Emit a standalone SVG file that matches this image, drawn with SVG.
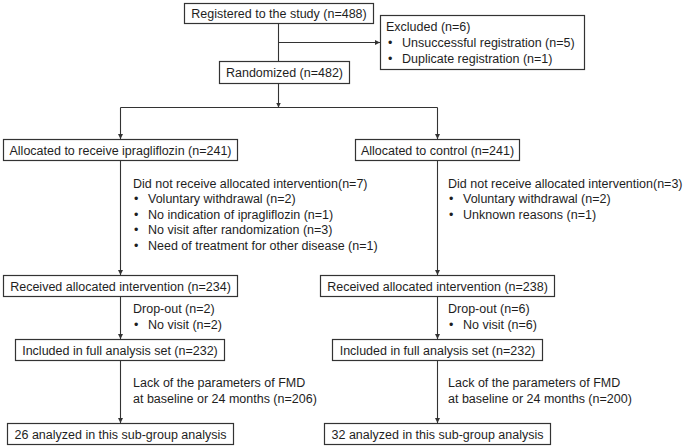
<svg xmlns="http://www.w3.org/2000/svg" width="685" height="446" viewBox="0 0 685 446">
<style>
.box{fill:#fff;stroke:#333;stroke-width:1.2}
.ln{fill:none;stroke:#333;stroke-width:1.1}
text{font-family:"Liberation Sans",Arial,sans-serif;font-size:12.5px;fill:#1e1e1e}
.c{text-anchor:middle}
</style>
<defs>
<marker id="ah" markerUnits="userSpaceOnUse" markerWidth="6" markerHeight="6" refX="5" refY="2.5" orient="auto">
<path d="M0,0 L5,2.5 L0,5 z" fill="#333"/>
</marker>
</defs>
<rect width="685" height="446" fill="#fff"/>
<g id="connectors">
<path class="ln" d="M278.5,23.5 V61.5"/>
<path class="ln" d="M278.5,42.5 H380" marker-end="url(#ah)"/>
<path class="ln" d="M278.5,83.5 V107.5" marker-end="url(#ah)"/>
<path class="ln" d="M120.5,107.5 H437.5"/>
<path class="ln" d="M120.5,107.5 V139" marker-end="url(#ah)"/>
<path class="ln" d="M437.5,107.5 V139" marker-end="url(#ah)"/>
<path class="ln" d="M120.5,160.5 V275" marker-end="url(#ah)"/>
<path class="ln" d="M437.5,160.5 V275" marker-end="url(#ah)"/>
<path class="ln" d="M120.5,296.5 V339" marker-end="url(#ah)"/>
<path class="ln" d="M437.5,296.5 V339" marker-end="url(#ah)"/>
<path class="ln" d="M120.5,360.5 V423" marker-end="url(#ah)"/>
<path class="ln" d="M437.5,360.5 V423" marker-end="url(#ah)"/>
</g>
<g id="registered">
<rect class="box" x="184.5" y="3.5" width="189" height="20"/>
<text class="c" x="279" y="18">Registered to the study (n=488)</text>
</g>
<g id="excluded">
<rect class="box" x="380.5" y="15.5" width="204" height="54"/>
<text x="386" y="30.5">Excluded (n=6)</text>
<text x="388" y="47">•</text><text x="402" y="47">Unsuccessful registration (n=5)</text>
<text x="388" y="62.5">•</text><text x="402" y="62.5">Duplicate registration (n=1)</text>
</g>
<g id="randomized">
<rect class="box" x="219.5" y="61.5" width="130" height="22"/>
<text class="c" x="284.5" y="77">Randomized (n=482)</text>
</g>
<g id="alloc-ipra">
<rect class="box" x="3.5" y="139.5" width="234" height="21"/>
<text class="c" x="120.5" y="154.5">Allocated to receive ipragliflozin (n=241)</text>
</g>
<g id="alloc-control">
<rect class="box" x="355.5" y="139.5" width="164" height="21"/>
<text class="c" x="437.5" y="154.5">Allocated to control (n=241)</text>
</g>
<g id="notrecv-ipra">
<text x="133" y="187.5">Did not receive allocated intervention(n=7)</text>
<text x="134" y="203">•</text><text x="148" y="203">Voluntary withdrawal (n=2)</text>
<text x="134" y="218.5">•</text><text x="148" y="218.5">No indication of ipragliflozin (n=1)</text>
<text x="134" y="234">•</text><text x="148" y="234">No visit after randomization (n=3)</text>
<text x="134" y="249.5">•</text><text x="148" y="249.5">Need of treatment for other disease (n=1)</text>
</g>
<g id="notrecv-control">
<text x="448" y="187.5">Did not receive allocated intervention(n=3)</text>
<text x="449" y="203">•</text><text x="463" y="203">Voluntary withdrawal (n=2)</text>
<text x="449" y="218.5">•</text><text x="463" y="218.5">Unknown reasons (n=1)</text>
</g>
<g id="recv-ipra">
<rect class="box" x="3.5" y="275.5" width="234" height="21"/>
<text class="c" x="120.5" y="290.5">Received allocated intervention (n=234)</text>
</g>
<g id="recv-control">
<rect class="box" x="320.5" y="275.5" width="234" height="21"/>
<text class="c" x="437.5" y="290.5">Received allocated intervention (n=238)</text>
</g>
<g id="dropout-ipra">
<text x="133" y="312.5">Drop-out (n=2)</text>
<text x="134" y="328.5">•</text><text x="148" y="328.5">No visit (n=2)</text>
</g>
<g id="dropout-control">
<text x="448" y="312.5">Drop-out (n=6)</text>
<text x="449" y="328.5">•</text><text x="463" y="328.5">No visit (n=6)</text>
</g>
<g id="fas-ipra">
<rect class="box" x="15.5" y="339.5" width="209" height="21"/>
<text class="c" x="120" y="354.5">Included in full analysis set (n=232)</text>
</g>
<g id="fas-control">
<rect class="box" x="332.5" y="339.5" width="210" height="21"/>
<text class="c" x="437.5" y="354.5">Included in full analysis set (n=232)</text>
</g>
<g id="lack-ipra">
<text x="133" y="387">Lack of the parameters of FMD</text>
<text x="133" y="402.5">at baseline or 24 months (n=206)</text>
</g>
<g id="lack-control">
<text x="448" y="387">Lack of the parameters of FMD</text>
<text x="448" y="402.5">at baseline or 24 months (n=200)</text>
</g>
<g id="final-ipra">
<rect class="box" x="7.5" y="423.5" width="226" height="21"/>
<text class="c" x="120.5" y="438.5">26 analyzed in this sub-group analysis</text>
</g>
<g id="final-control">
<rect class="box" x="324.5" y="423.5" width="226" height="21"/>
<text class="c" x="437.5" y="438.5">32 analyzed in this sub-group analysis</text>
</g>
</svg>
